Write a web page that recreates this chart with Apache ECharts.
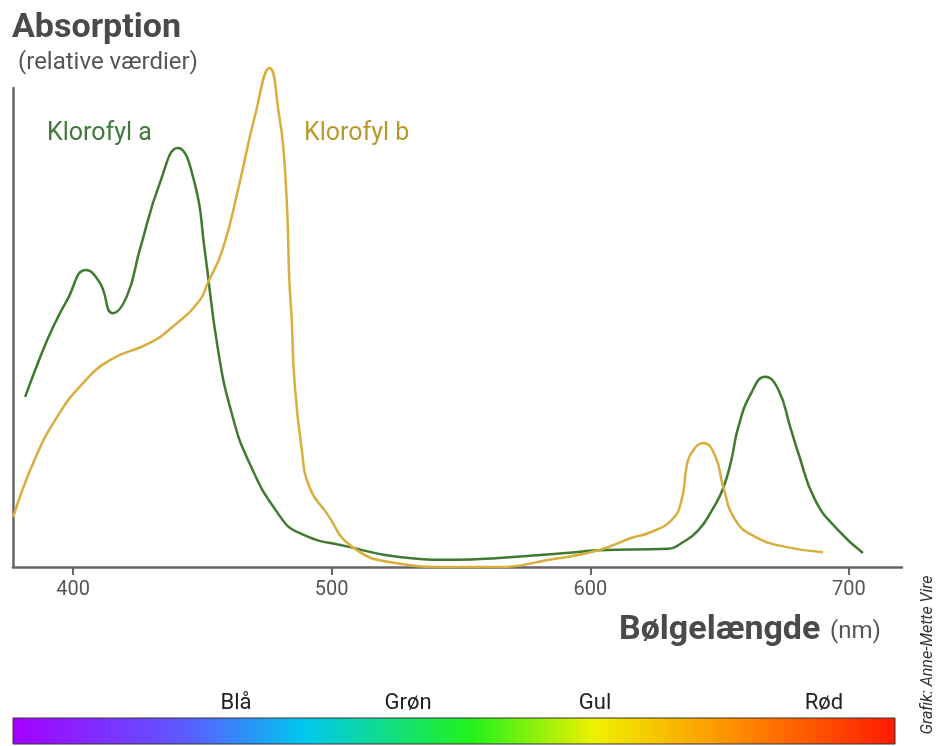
<!DOCTYPE html>
<html>
<head>
<meta charset="utf-8">
<script src="https://cdn.jsdelivr.net/npm/echarts@6/dist/echarts.min.js"></script>
<style>
  html, body { margin: 0; padding: 0; background: #fff; }
  #chart { width: 936px; height: 746px; }
</style>
</head>
<body>
<div id="chart"></div>
<script>
// wavelength ticks (nm)
var xTicks = [400, 500, 600, 700];

// Klorofyl a: [wavelength, relative absorption]
var klorofylA = [
  [381.5, 35.5], [387.3, 43.8], [392.3, 50.1], [397.7, 55.7], [405.0, 62.0],
  [410.4, 59.3], [415.4, 53.0], [420.8, 56.5], [425.8, 66.2], [433.6, 80.2],
  [440.5, 87.5], [447.0, 80.2], [450.9, 66.2], [455.9, 45.9],
  [461.3, 32.2], [468.2, 21.7], [479.1, 11.3], [487.5, 7.1], [506.8, 4.2],
  [526.1, 2.1], [548.1, 1.5], [564.7, 1.9], [590.5, 2.9], [603.2, 3.5],
  [630.2, 3.8], [635.3, 5.0], [641.8, 7.7], [647.5, 12.3], [651.4, 16.5],
  [654.5, 22.3], [657.2, 29.2], [662.2, 36.3], [667.6, 39.7], [672.7, 37.0],
  [677.3, 29.2], [680.4, 23.8], [686.9, 14.0], [695.8, 7.7], [705.4, 2.9]
];

// Klorofyl b
var klorofylB = [
  [376.9, 10.4], [384.6, 21.7], [393.8, 31.3], [403.9, 38.4], [414.3, 43.2],
  [429.7, 46.8], [439.3, 50.5], [449.0, 55.7], [452.1, 59.3], [457.8, 66.2],
  [464.4, 80.2], [470.2, 93.9], [476.0, 104.2], [479.8, 93.9], [481.4, 87.1],
  [482.9, 73.1], [483.6, 60.1], [484.5, 52.2], [485.6, 39.0], [488.3, 25.1],
  [491.4, 16.7], [498.0, 11.3], [508.0, 4.2], [525.0, 0.8], [545.4, 0.0],
  [564.7, 0.0], [584.0, 1.5], [603.2, 3.5], [616.0, 6.1], [622.5, 7.1],
  [631.4, 9.8], [635.3, 14.0], [637.2, 20.9], [639.1, 23.8], [643.7, 25.9],
  [648.4, 23.0], [651.4, 16.7], [656.1, 9.8], [663.8, 6.3], [675.4, 4.2],
  [690.0, 3.1]
];

// spectrum colour names under the chart
var colourNames = ['Blå', 'Grøn', 'Gul', 'Rød'];
var colourNameX = [236, 408, 595, 824];

var chart = echarts.init(document.getElementById('chart'));

var graphics = [
  {
    type: 'text', left: 12, top: 11,
    style: { text: 'Absorption', font: 'bold 34px Roboto', fill: '#4a4a4a' }
  },
  {
    type: 'text', left: 18, top: 51,
    style: { text: '(relative værdier)', font: '24px Roboto', fill: '#555' }
  },
  {
    type: 'text', left: 47, top: 121,
    style: { text: 'Klorofyl a', font: '25px Roboto', fill: '#3f7a3a' }
  },
  {
    type: 'text', left: 304, top: 121,
    style: { text: 'Klorofyl b', font: '25px Roboto', fill: '#b89a2c' }
  },
  {
    type: 'text', left: 619, top: 613,
    style: { text: 'Bølgelængde', font: 'bold 34px Roboto', fill: '#4a4a4a' }
  },
  {
    type: 'text', left: 830, top: 620,
    style: { text: '(nm)', font: '24px Roboto', fill: '#555' }
  },
  {
    type: 'rect',
    shape: { x: 13, y: 718, width: 882, height: 26 },
    style: {
      stroke: '#333', lineWidth: 1,
      fill: new echarts.graphic.LinearGradient(0, 0, 1, 0, [
        { offset: 0, color: '#a400ff' },
        { offset: 0.2, color: '#5a5cff' },
        { offset: 0.33, color: '#00c8f0' },
        { offset: 0.52, color: '#22f21a' },
        { offset: 0.66, color: '#f0f000' },
        { offset: 0.82, color: '#ff8c00' },
        { offset: 1, color: '#ff1a00' }
      ])
    }
  },
  {
    type: 'text', x: 928, y: 655, rotation: Math.PI / 2,
    style: {
      text: 'Grafik: Anne-Mette Vire', font: 'italic 16px Roboto', fill: '#333',
      align: 'center', verticalAlign: 'middle'
    }
  }
];

colourNames.forEach(function (name, i) {
  graphics.push({
    type: 'text', x: colourNameX[i], y: 703,
    style: {
      text: name, font: '22px Roboto', fill: '#222',
      align: 'center', verticalAlign: 'middle'
    }
  });
});

var option = {
  animation: false,
  backgroundColor: '#fff',
  grid: { left: 13, right: 34, top: 88, bottom: 179 },
  xAxis: {
    type: 'value',
    min: 376.8,
    max: 720.5,
    splitLine: { show: false },
    axisLine: { lineStyle: { color: '#666', width: 2.5 } },
    axisTick: { length: 8, customValues: xTicks, lineStyle: { color: '#666', width: 2 } },
    axisLabel: {
      customValues: xTicks,
      margin: 13,
      fontSize: 20,
      fontFamily: 'Roboto',
      color: '#555'
    }
  },
  yAxis: {
    type: 'value',
    min: 0,
    max: 100,
    splitLine: { show: false },
    axisLine: { show: true, lineStyle: { color: '#666', width: 2.5 } },
    axisTick: { show: false },
    axisLabel: { show: false }
  },
  series: [
    {
      name: 'Klorofyl a',
      type: 'line',
      data: klorofylA,
      smooth: 0.5,
      showSymbol: false,
      clip: false,
      lineStyle: { color: '#3f7a30', width: 2.5 }
    },
    {
      name: 'Klorofyl b',
      type: 'line',
      data: klorofylB,
      smooth: 0.5,
      showSymbol: false,
      clip: false,
      lineStyle: { color: '#d9ae3e', width: 2.5 }
    }
  ],
  graphic: graphics
};

chart.setOption(option);
</script>
</body>
</html>
